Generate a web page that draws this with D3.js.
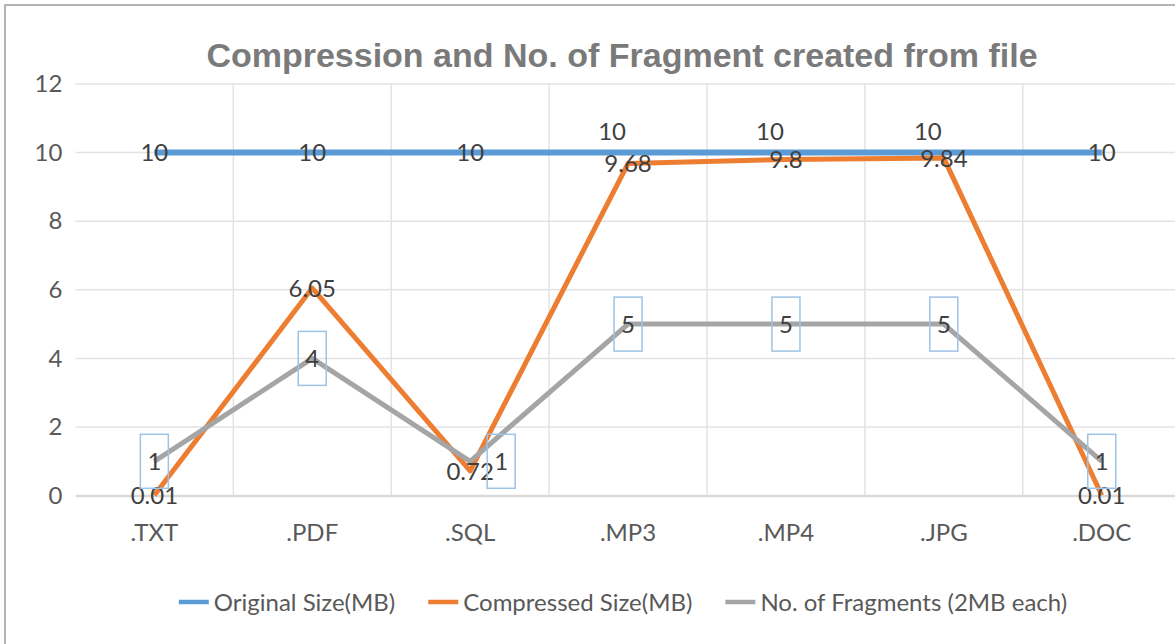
<!DOCTYPE html>
<html>
<head>
<meta charset="utf-8">
<script src="https://cdn.jsdelivr.net/npm/d3@7"></script>
<style>
  html, body { margin: 0; padding: 0; background: #ffffff; overflow: hidden; }
  svg { display: block; }
</style>
</head>
<body>
<svg id="chart" width="1175" height="644"></svg>
<script>
// Chart data
const categories = [".TXT", ".PDF", ".SQL", ".MP3", ".MP4", ".JPG", ".DOC"];
const originalSize = [10, 10, 10, 10, 10, 10, 10];
const compressedSize = [0.01, 6.05, 0.72, 9.68, 9.8, 9.84, 0.01];
const fragmentCount = [1, 4, 1, 5, 5, 5, 1];
const yTicks = [0, 2, 4, 6, 8, 10, 12];
const seriesNames = ["Original Size(MB)", "Compressed Size(MB)", "No. of Fragments (2MB each)"];
const titleText = "Compression and No. of Fragment created from file";

const colors = ["#5b9bd5", "#ed7d31", "#a5a5a5"];
const textFont = "Lato, 'Open Sans', sans-serif";

const svg = d3.select("#chart");

// Chart frame (right and bottom edges fall outside the view)
svg.append("rect")
  .attr("x", 5).attr("y", 5)
  .attr("width", 1400).attr("height", 800)
  .attr("fill", "#ffffff")
  .attr("stroke", "#b4b4b4")
  .attr("stroke-width", 2);

const plot = { left: 75.4, right: 1180.7, top: 84, bottom: 495.6 };

const x = d3.scaleBand().domain(categories).range([plot.left, plot.right]).padding(0);
const y = d3.scaleLinear().domain([0, 12]).range([plot.bottom, plot.top]);
const cx = c => x(c) + x.bandwidth() / 2;

// Title
svg.append("text")
  .attr("x", 622)
  .attr("y", 67)
  .attr("text-anchor", "middle")
  .attr("font-family", "'Liberation Sans', Arial, sans-serif")
  .attr("font-weight", "bold")
  .attr("font-size", 34)
  .attr("fill", "#7a7a7a")
  .text(titleText);

// Horizontal gridlines
const grid = svg.append("g");
grid.selectAll("line.h")
  .data(yTicks.filter(t => t !== 0))
  .join("line")
  .attr("class", "h")
  .attr("x1", plot.left).attr("x2", plot.right)
  .attr("y1", d => y(d)).attr("y2", d => y(d))
  .attr("stroke", "#e3e3e3")
  .attr("stroke-width", 1.5);

// Vertical gridlines at category boundaries
grid.selectAll("line.v")
  .data(categories.slice(1).map(c => x(c)).concat([plot.right]))
  .join("line")
  .attr("class", "v")
  .attr("x1", d => d).attr("x2", d => d)
  .attr("y1", plot.top).attr("y2", plot.bottom)
  .attr("stroke", "#e3e3e3")
  .attr("stroke-width", 1.5);

// Y axis labels
const yAxis = svg.append("g")
  .attr("transform", `translate(${plot.left},0)`)
  .call(d3.axisLeft(y).tickValues(yTicks).tickSize(0).tickPadding(13).tickFormat(d3.format("d")));
yAxis.select(".domain").remove();
yAxis.selectAll("text")
  .attr("font-family", textFont)
  .attr("font-size", 24)
  .attr("fill", "#595959");

// X axis (baseline + category labels)
const xAxis = svg.append("g")
  .attr("transform", `translate(0,${plot.bottom})`)
  .call(d3.axisBottom(x).tickSize(0).tickPadding(28));
xAxis.select(".domain")
  .attr("stroke", "#d9d9d9")
  .attr("stroke-width", 2.5);
xAxis.selectAll("text")
  .attr("font-family", textFont)
  .attr("font-size", 24)
  .attr("fill", "#595959");

// Series lines
const series = [originalSize, compressedSize, fragmentCount];
const line = d3.line()
  .x((d, i) => cx(categories[i]))
  .y(d => y(d));

svg.append("g").selectAll("path")
  .data(series)
  .join("path")
  .attr("d", d => line(d))
  .attr("fill", "none")
  .attr("stroke", (d, i) => colors[i])
  .attr("stroke-width", (d, i) => i === 0 ? 6 : 5)
  .attr("stroke-linejoin", "round")
  .attr("stroke-linecap", "butt");

// Data labels
const labels = svg.append("g")
  .attr("font-family", textFont)
  .attr("font-size", 24)
  .attr("fill", "#404040")
  .attr("text-anchor", "middle");

// Original size: lifted above the line where the compressed value sits close by
labels.selectAll("text.orig")
  .data(originalSize)
  .join("text")
  .attr("class", "orig")
  .attr("x", (d, i) => cx(categories[i]) - (Math.abs(d - compressedSize[i]) < 0.5 ? 16 : 0))
  .attr("y", (d, i) => y(d) - (Math.abs(d - compressedSize[i]) < 0.5 ? 21 : 0))
  .attr("dy", "0.36em")
  .text(d => d);

labels.selectAll("text.comp")
  .data(compressedSize)
  .join("text")
  .attr("class", "comp")
  .attr("x", (d, i) => cx(categories[i]))
  .attr("y", d => y(d))
  .attr("dy", "0.36em")
  .text(d => d);

// Fragment counts in outlined boxes, nudged right where they would hit the compressed label
const fragShift = (d, i) => Math.abs(d - compressedSize[i]) < 0.5 ? 31 : 0;
const frag = labels.selectAll("g.frag")
  .data(fragmentCount)
  .join("g")
  .attr("class", "frag")
  .attr("transform", (d, i) => `translate(${cx(categories[i]) + fragShift(d, i)},${y(d)})`);
frag.append("rect")
  .attr("x", -14).attr("y", -27)
  .attr("width", 28).attr("height", 54)
  .attr("fill", "none")
  .attr("stroke", "#9dc3e6")
  .attr("stroke-width", 1.5);
frag.append("text")
  .attr("dy", "0.36em")
  .text(d => d);

// Legend
const legend = svg.append("g")
  .attr("font-family", textFont)
  .attr("font-size", 24)
  .attr("fill", "#595959");
const legendY = 602;
const items = legend.selectAll("g")
  .data(seriesNames)
  .join("g");
items.append("line")
  .attr("x1", 0).attr("x2", 30)
  .attr("y1", 0).attr("y2", 0)
  .attr("stroke", (d, i) => colors[i])
  .attr("stroke-width", 4.5);
items.append("text")
  .attr("x", 35)
  .attr("dy", "0.36em")
  .text(d => d);

const widths = [];
items.each(function () {
  widths.push(35 + this.querySelector("text").getComputedTextLength());
});
const gap = 33;
const total = d3.sum(widths) + gap * (widths.length - 1);
let lx = 623 - total / 2;
items.attr("transform", (d, i) => {
  const t = `translate(${lx},${legendY})`;
  lx += widths[i] + gap;
  return t;
});
</script>
</body>
</html>
